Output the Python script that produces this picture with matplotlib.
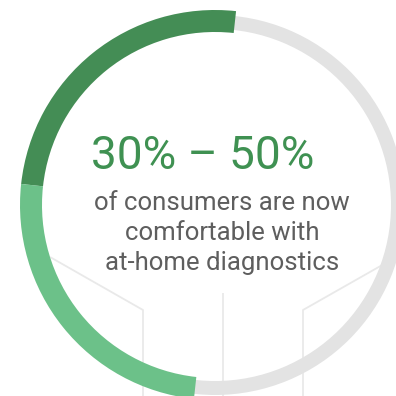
import matplotlib
matplotlib.use("Agg")
import matplotlib.pyplot as plt

# share of consumers, in percent of the ring
segments = ["lower bound", "upper range", "rest"]
shares = [25, 25, 50]
segment_colors = ["#448d55", "#6cc189", "none"]

headline = "30% – 50%"
caption = ["of consumers are now", "comfortable with", "at-home diagnostics"]

plt.rcParams["font.family"] = ["Roboto", "DejaVu Sans"]

fig = plt.figure(figsize=(3.96, 3.96), dpi=100)
ax = fig.add_axes([0, 0, 1, 1])

cx, cy = 215, 191

# faint background lines
line_kw = dict(color="#e9e9e9", lw=1.3, zorder=0, solid_capstyle="butt")
ax.plot([50, 143, 143], [139, 86, -5], **line_kw)
ax.plot([223, 223], [103, -5], **line_kw)
ax.plot([384, 303, 303], [132, 86, -5], **line_kw)

# grey track behind the green arc
ax.pie([1], colors=["#e3e3e3"], radius=190, center=(cx, cy),
       wedgeprops=dict(width=14, linewidth=0))
ax.pie(shares, colors=segment_colors, radius=195, center=(cx, cy),
       startangle=83.8, counterclock=True,
       wedgeprops=dict(width=22, linewidth=0))

ax.text(203, 227, headline, ha="center", va="baseline",
        fontsize=33, color="#3f9152")
for i, line in enumerate(caption):
    ax.text(222, 186 - 30 * i, line, ha="center", va="baseline",
            fontsize=18.5, color="#5e5e5e")

ax.set_xlim(0, 396)
ax.set_ylim(0, 396)
ax.set_aspect("equal")
ax.axis("off")

fig.savefig("out.png", dpi=100)
